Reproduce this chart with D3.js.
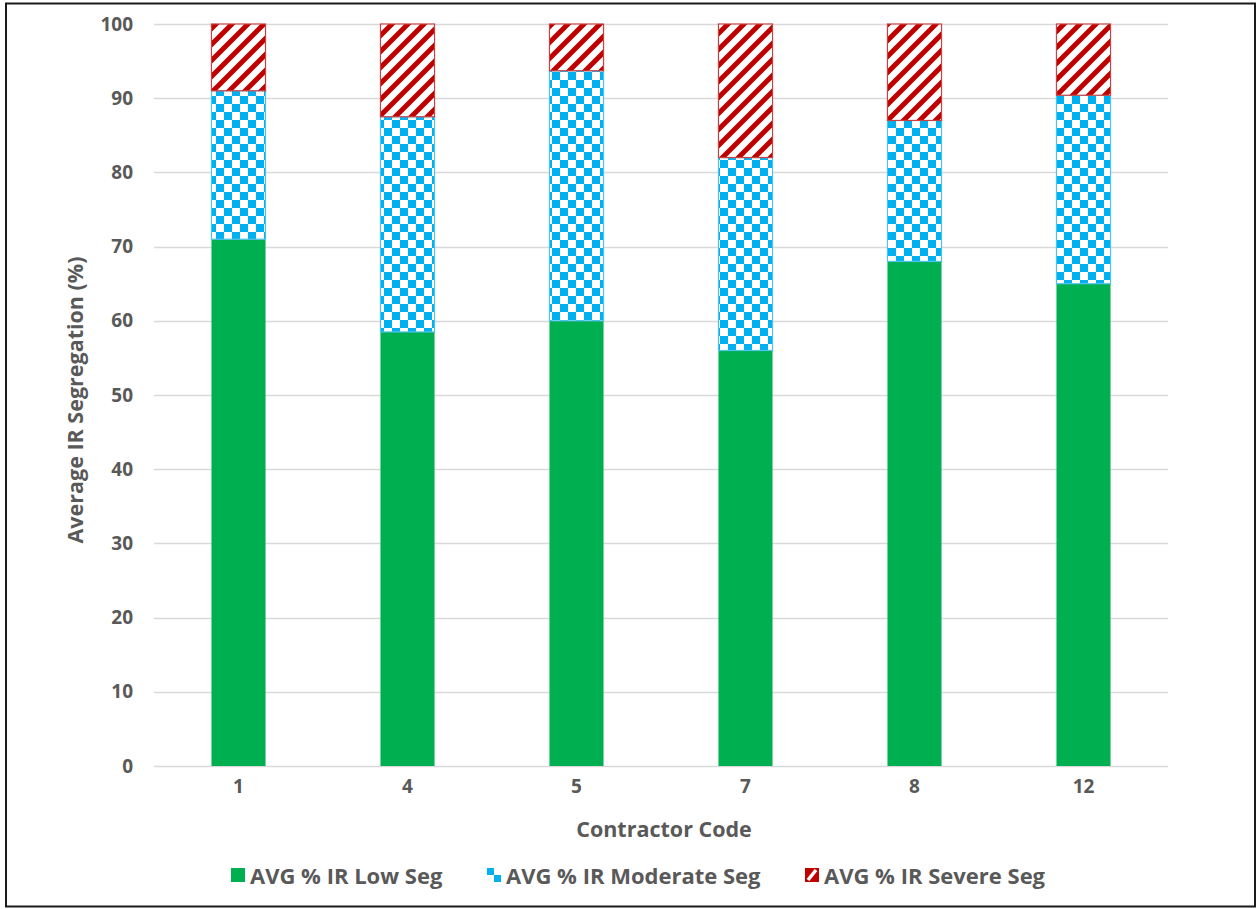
<!DOCTYPE html>
<html>
<head>
<meta charset="utf-8">
<script src="https://cdn.jsdelivr.net/npm/d3@7"></script>
<style>
  html, body { margin: 0; padding: 0; background: #fff; }
  svg { display: block; }
  text { font-family: "Open Sans", Lato, "DejaVu Sans", sans-serif; font-weight: bold; fill: #595959; }
</style>
</head>
<body>
<svg id="chart" width="1257" height="909"></svg>
<script>
const categories = ["1", "4", "5", "7", "8", "12"];
const lowSeg = [71, 58.5, 60, 56, 68, 65];
const moderateSeg = [20, 29, 33.7, 26, 19, 25.4];
const severeSeg = [9, 12.5, 6.3, 18, 13, 9.6];
const seriesNames = ["AVG % IR Low Seg", "AVG % IR Moderate Seg", "AVG % IR Severe Seg"];
const yTicks = [0, 10, 20, 30, 40, 50, 60, 70, 80, 90, 100];

const svg = d3.select("#chart");
const W = 1257, H = 909;
const plot = { left: 154, right: 1168, top: 24, bottom: 766 };
const FONT = "'Open Sans', Lato, sans-serif";

// frame
svg.append("rect").attr("x", 0).attr("y", 0).attr("width", W).attr("height", H).attr("fill", "#fff");
svg.append("rect").attr("x", 6).attr("y", 3.5).attr("width", 1249).attr("height", 903)
  .attr("fill", "none").attr("stroke", "#1a1a1a").attr("stroke-width", 2);

// patterns
const defs = svg.append("defs");
const checker = defs.append("pattern").attr("id", "checker").attr("patternUnits", "userSpaceOnUse")
  .attr("width", 16).attr("height", 16);
checker.append("rect").attr("width", 16).attr("height", 16).attr("fill", "#fff");
checker.append("rect").attr("x", 0).attr("y", 0).attr("width", 8).attr("height", 8).attr("fill", "#00B0F0");
checker.append("rect").attr("x", 8).attr("y", 8).attr("width", 8).attr("height", 8).attr("fill", "#00B0F0");

const stripes = defs.append("pattern").attr("id", "stripes").attr("patternUnits", "userSpaceOnUse")
  .attr("width", 16).attr("height", 16);
stripes.append("rect").attr("width", 16).attr("height", 16).attr("fill", "#fff");
stripes.append("path").attr("d", "M-4,4 L4,-4 M0,16 L16,0 M12,20 L20,12")
  .attr("stroke", "#C00000").attr("stroke-width", 5);

const checkerS = defs.append("pattern").attr("id", "checkerS").attr("patternUnits", "userSpaceOnUse")
  .attr("width", 14).attr("height", 14).attr("x", 487).attr("y", 868);
checkerS.append("rect").attr("width", 14).attr("height", 14).attr("fill", "#00B0F0");
checkerS.append("rect").attr("x", 7).attr("y", 0).attr("width", 7).attr("height", 7).attr("fill", "#fff");
checkerS.append("rect").attr("x", 0).attr("y", 7).attr("width", 7).attr("height", 7).attr("fill", "#fff");

const stripesS = defs.append("pattern").attr("id", "stripesS").attr("patternUnits", "userSpaceOnUse")
  .attr("width", 14).attr("height", 14).attr("x", 805).attr("y", 868);
stripesS.append("rect").attr("width", 14).attr("height", 14).attr("fill", "#C00000");
stripesS.append("path").attr("d", "M3,12 L11,2").attr("stroke", "#fff").attr("stroke-width", 3.5);

const fills = ["#00B050", "url(#checker)", "url(#stripes)"];
const strokes = ["#00B050", "#4FC3F0", "#C8403F"];
const legendFills = ["#00B050", "url(#checkerS)", "url(#stripesS)"];

// scales
const x = d3.scaleBand().domain(categories).range([plot.left, plot.right])
  .paddingInner(0.68).paddingOuter(0.34);
const y = d3.scaleLinear().domain([0, 100]).range([plot.bottom, plot.top]);

// gridlines
svg.append("g").selectAll("line").data(yTicks).join("line")
  .attr("x1", plot.left).attr("x2", plot.right)
  .attr("y1", d => Math.round(y(d)) + 0.5).attr("y2", d => Math.round(y(d)) + 0.5)
  .attr("stroke", "#D9D9D9").attr("stroke-width", 1.5);

// y axis
const yAxis = svg.append("g").attr("transform", `translate(${plot.left},0)`)
  .call(d3.axisLeft(y).tickValues(yTicks).tickSize(0).tickPadding(21));
yAxis.select(".domain").remove();
yAxis.selectAll("text").attr("font-size", 19).style("font-family", FONT)
  .style("font-weight", "bold").attr("fill", "#595959");

// x axis
const xAxis = svg.append("g").attr("transform", `translate(0,${plot.bottom})`)
  .call(d3.axisBottom(x).tickSize(0).tickPadding(14));
xAxis.select(".domain").remove();
xAxis.selectAll("text").attr("font-size", 19).style("font-family", FONT)
  .style("font-weight", "bold").attr("fill", "#595959");

// stacked data
const rows = categories.map((c, i) => ({ cat: c, low: lowSeg[i], mod: moderateSeg[i], sev: severeSeg[i] }));
const stack = d3.stack().keys(["low", "mod", "sev"])(rows);

stack.forEach((layer, li) => {
  svg.append("g").selectAll("rect").data(layer).join("rect")
    .attr("x", d => x(d.data.cat))
    .attr("width", x.bandwidth())
    .attr("y", d => y(d[1]))
    .attr("height", d => y(d[0]) - y(d[1]))
    .attr("fill", fills[li])
    .attr("stroke", li === 0 ? "none" : strokes[li])
    .attr("stroke-width", 1.2);
});

// axis titles
svg.append("text").attr("x", 664).attr("y", 837)
  .attr("text-anchor", "middle").attr("font-size", 21.5).text("Contractor Code");
svg.append("text").attr("transform", `translate(83,400) rotate(-90)`)
  .attr("text-anchor", "middle").attr("font-size", 21.5).text("Average IR Segregation (%)");

// legend
const legendX = [231, 487, 805];
seriesNames.forEach((name, i) => {
  const g = svg.append("g");
  g.append("rect").attr("x", legendX[i]).attr("y", 868).attr("width", 14).attr("height", 14)
    .attr("fill", legendFills[i]);
  g.append("text").attr("x", legendX[i] + 19).attr("y", 884).attr("font-size", 22).text(name);
});
</script>
</body>
</html>
